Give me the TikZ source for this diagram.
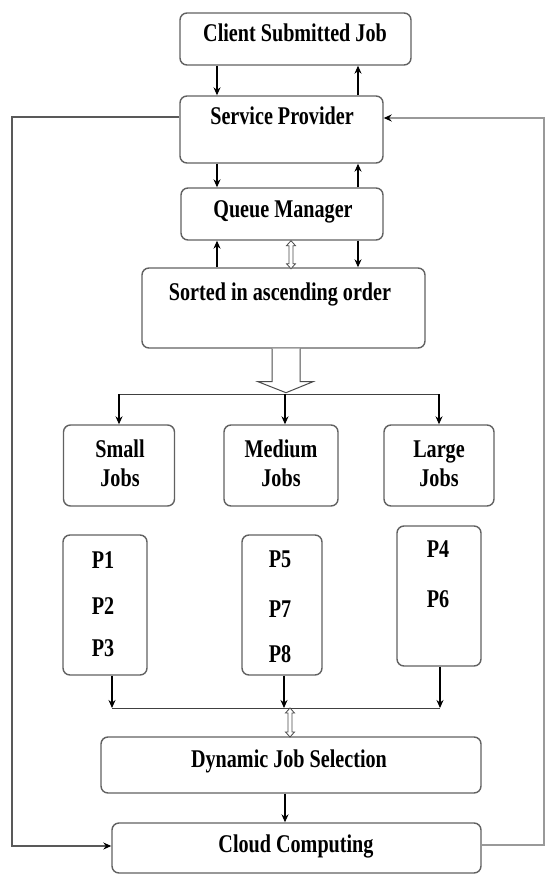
\documentclass[tikz,border=0pt]{standalone}
\usepackage{fontspec}
\setmainfont{Liberation Serif}[FakeStretch=0.79]
\usetikzlibrary{arrows.meta}
\begin{document}
\begin{tikzpicture}[x=1pt,y=-1pt,
  box/.style={draw=black!62, line width=1.4pt, rounded corners=7pt, fill=white, inner sep=0pt},
  txt/.style={font=\fontsize{25.5}{30}\selectfont\bfseries, anchor=base, inner sep=0pt, text=black},
  arr/.style={draw=black, line width=1.1pt, -{Stealth[length=8pt,width=7pt]}},
  ln/.style={draw=black!75, line width=1pt},
  hol/.style={draw=black!70, line width=0.8pt, fill=white},
  fbl/.style={draw=black!65, line width=1.2pt, -{Stealth[length=8pt,width=7pt,color=black]}},
  fbr/.style={draw=black!40, line width=1.2pt, -{Stealth[length=8pt,width=7pt,color=black]}}]
\useasboundingbox (0,0) rectangle (547,874);
\fill[white] (0,0) rectangle (547,874);

% boxes
\node[box, minimum width=231pt, minimum height=52pt] (client) at (295.5,39) {};
\node[box, minimum width=203pt, minimum height=67pt] (sp) at (281.5,129.5) {};
\node[box, minimum width=202pt, minimum height=52pt] (qm) at (282,214) {};
\node[box, minimum width=283pt, minimum height=80pt] (sorted) at (283.5,308) {};
\node[box, minimum width=111pt, minimum height=81pt] (small) at (119,465.5) {};
\node[box, minimum width=114pt, minimum height=81pt] (medium) at (281,465.5) {};
\node[box, minimum width=110pt, minimum height=81pt] (large) at (439,465.5) {};
\node[box, minimum width=84pt, minimum height=140pt] (p1) at (105,605) {};
\node[box, minimum width=80pt, minimum height=140pt] (p5) at (282,605) {};
\node[box, minimum width=84pt, minimum height=140pt] (p4) at (439,596) {};
\node[box, minimum width=380pt, minimum height=56pt] (djs) at (291,765) {};
\node[box, minimum width=369pt, minimum height=50pt] (cc) at (296.5,848) {};

% texts
\node[txt] (client-t) at (295,42) {Client Submitted Job};
\node[txt] (sp-t) at (282,125) {Service Provider};
\node[txt] (qm-t) at (283,218) {Queue Manager};
\node[txt] (sorted-t) at (280,300) {Sorted in ascending order};
\node[txt] (small-t1) at (120,457) {Small};
\node[txt] (small-t2) at (120,486) {Jobs};
\node[txt] (medium-t1) at (281,457) {Medium};
\node[txt] (medium-t2) at (281,486) {Jobs};
\node[txt] (large-t1) at (439,457) {Large};
\node[txt] (large-t2) at (439,486) {Jobs};
\node[txt] (t-p1) at (103,568) {P1};
\node[txt] (t-p2) at (103,614) {P2};
\node[txt] (t-p3) at (103,656) {P3};
\node[txt] (t-p5) at (280,567) {P5};
\node[txt] (t-p7) at (280,617) {P7};
\node[txt] (t-p8) at (280,662) {P8};
\node[txt] (t-p4) at (438,557) {P4};
\node[txt] (t-p6) at (438,607) {P6};
\node[txt] (djs-t) at (289,767) {Dynamic Job Selection};
\node[txt] (cc-t) at (296,852) {Cloud Computing};

% vertical arrows in the top column
\coordinate (xa) at (217,0);
\coordinate (xb) at (358,0);
\draw[arr] (xa |- client.south) -- (xa |- sp.north);
\draw[arr] (xb |- sp.north) -- (xb |- client.south);
\draw[arr] (xa |- sp.south) -- (xa |- qm.north);
\draw[arr] (xb |- qm.north) -- (xb |- sp.south);
\draw[arr] (xa |- sorted.north) -- (xa |- qm.south);
\draw[arr] (xb |- qm.south) -- (xb |- sorted.north);

% hollow double arrow QM <-> Sorted
\coordinate (hx) at (291,0);
\draw[hol] (hx |- qm.south) -- ++(4.5,5) -- ++(-2.5,0) -- ++(0,18) -- ++(2.5,0) -- ++(-4.5,5)
  -- ++(-4.5,-5) -- ++(2.5,0) -- ++(0,-18) -- ++(-2.5,0) -- cycle;

% big hollow arrow below Sorted
\coordinate (bx) at (286,0);
\coordinate (bt) at (285,394);
\draw[hol, line width=1pt] (bx |- sorted.south) ++(-14,0) -- ++(0,33) -- ++(-14,0) -- ++(28,11)
  -- ++(27,-11) -- ++(-13,0) -- ++(0,-33);

% branch to the three job boxes
\draw[ln] (small.north |- bt) -- (large.north |- bt);
\draw[arr] (small.north |- bt) -- (small.north);
\draw[arr] (bt) -- (bt |- medium.north);
\draw[arr] (large.north |- bt) -- (large.north);

% collecting line below P boxes
\coordinate (jl) at (112,708);
\coordinate (jm) at (284,708);
\coordinate (jr) at (440,708);
\draw[ln] (jl) -- (jr);
\draw[arr] (jl |- p1.south) -- (jl);
\draw[arr] (jm |- p5.south) -- (jm);
\draw[arr] (jr |- p4.south) -- (jr);

% hollow double arrow to DJS
\coordinate (hx2) at (290,708);
\draw[hol] (hx2) -- ++(4.5,5) -- ++(-2.5,0) -- ++(0,19) -- ++(2.5,0) -- ++(-4.5,5)
  -- ++(-4.5,-5) -- ++(2.5,0) -- ++(0,-19) -- ++(-2.5,0) -- cycle;

% DJS -> CC
\coordinate (dx) at (285,0);
\draw[arr] (dx |- djs.south) -- (dx |- cc.north);

% feedback lines
\coordinate (fl1) at (12,117);
\coordinate (fl2) at (12,846);
\draw[fbl] (sp.west |- fl1) -- (fl1) -- (fl2) -- (cc.west |- fl2);
\coordinate (fr1) at (544,118);
\coordinate (fr2) at (544,845);
\draw[fbr] (cc.east |- fr2) -- (fr2) -- (fr1) -- (sp.east |- fr1);
\end{tikzpicture}
\end{document}
